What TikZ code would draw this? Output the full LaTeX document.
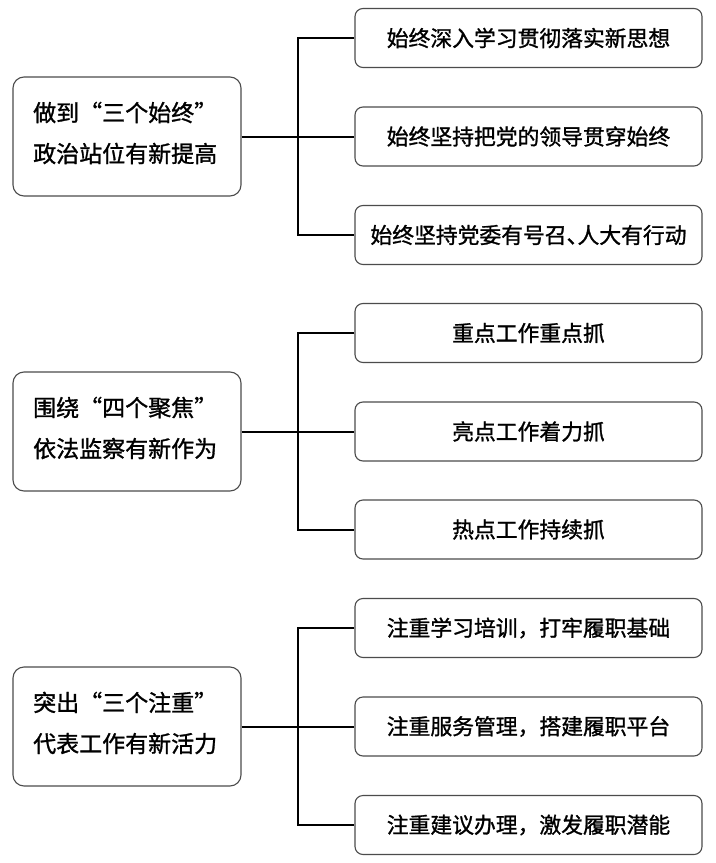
\documentclass[tikz,border=0pt]{standalone}
\usepackage{fontspec}
\setmainfont[FakeBold=1.2,AutoFakeBold=1.2]{Noto Sans CJK SC}
\begin{document}
\begin{tikzpicture}[x=1bp,y=-1bp,
  leftbox/.style={draw=black!70,line width=1.1bp,rounded corners=11bp,minimum width=228bp,minimum height=119bp,inner sep=0pt},
  rightbox/.style={draw=black!70,line width=1.1bp,rounded corners=8bp,minimum width=347bp,minimum height=59bp,inner sep=0pt,font=\fontsize{21.8bp}{24bp}\selectfont},
  lefttext/.style={anchor=west,align=left,inner sep=0pt,font=\fontsize{23bp}{41bp}\selectfont},
  conn/.style={draw=black,line width=2bp}]
\useasboundingbox (0,0) rectangle (716,863);
\fill[white] (0,0) rectangle (716,863);
% group 1
\node[leftbox] (L1) at (127,136.5) {};
\node[lefttext] (L1t) at (33,133) {做到“三个始终”\\政治站位有新提高};
\node[rightbox] (R11) at (528.5,38) {始终深入学习贯彻落实新思想};
\node[rightbox] (R12) at (528.5,136.5) {始终坚持把党的领导贯穿始终};
\node[rightbox] (R13) at (528.5,235) {始终坚持党委有号召\makebox[0.5em][l]{、}人大有行动};
\coordinate (T1) at (298,136.5);
\draw[conn] (L1.east) -- (T1);
\draw[conn] (R11.west) -| (T1) |- (R13.west);
\draw[conn] (T1) -- (R12.west);
% group 2
\node[leftbox] (L2) at (127,431.5) {};
\node[lefttext] (L2t) at (33,428) {围绕“四个聚焦”\\依法监察有新作为};
\node[rightbox] (R21) at (528.5,333) {重点工作重点抓};
\node[rightbox] (R22) at (528.5,431.5) {亮点工作着力抓};
\node[rightbox] (R23) at (528.5,529.5) {热点工作持续抓};
\coordinate (T2) at (298,431.5);
\draw[conn] (L2.east) -- (T2);
\draw[conn] (R21.west) -| (T2) |- (R23.west);
\draw[conn] (T2) -- (R22.west);
% group 3
\node[leftbox] (L3) at (127,726.5) {};
\node[lefttext] (L3t) at (33,723) {突出“三个注重”\\代表工作有新活力};
\node[rightbox] (R31) at (528.5,628) {注重学习培训，打牢履职基础};
\node[rightbox] (R32) at (528.5,726.5) {注重服务管理，搭建履职平台};
\node[rightbox] (R33) at (528.5,825) {注重建议办理，激发履职潜能};
\coordinate (T3) at (298,726.5);
\draw[conn] (L3.east) -- (T3);
\draw[conn] (R31.west) -| (T3) |- (R33.west);
\draw[conn] (T3) -- (R32.west);
\end{tikzpicture}
\end{document}
